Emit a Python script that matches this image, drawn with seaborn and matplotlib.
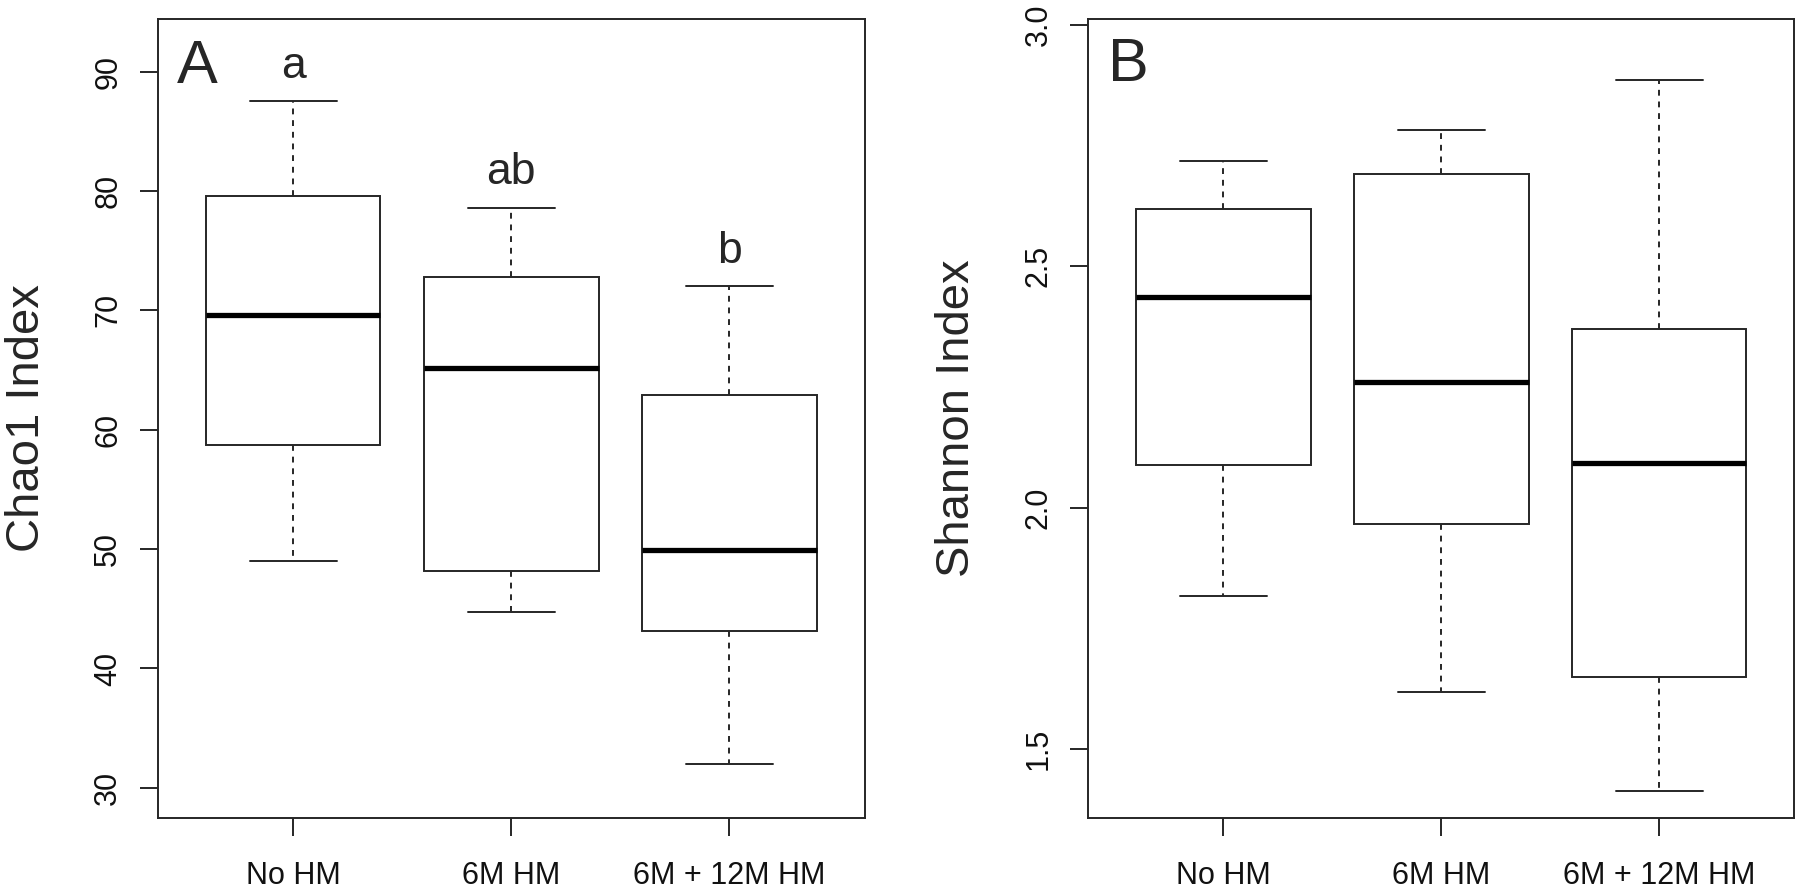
import numpy as np
import pandas as pd
import matplotlib.pyplot as plt
import seaborn as sns

sns.set_style("white")
plt.rcParams["font.family"] = ["Liberation Sans", "DejaVu Sans"]

# groups on the x axis
groups = ["No HM", "6M HM", "6M + 12M HM"]

# five-number summaries: min, Q1, median, Q3, max
chao1_nohm = [49.0, 58.7, 69.6, 79.6, 87.5]
chao1_6m = [44.7, 48.2, 65.2, 72.8, 78.6]
chao1_6m12m = [32.0, 43.1, 49.9, 62.9, 72.0]

shannon_nohm = [1.818, 2.088, 2.436, 2.618, 2.719]
shannon_6m = [1.619, 1.966, 2.260, 2.692, 2.783]
shannon_6m12m = [1.414, 1.650, 2.093, 2.371, 2.886]

# significance letters above the Chao1 boxes
chao1_letters = ["a", "ab", "b"]

chao1_ticks = [30, 40, 50, 60, 70, 80, 90]
shannon_ticks = [1.5, 2.0, 2.5, 3.0]

LINE = "#262626"


def long_df(series):
    rows = []
    for g, vals in zip(groups, series):
        for v in vals:
            rows.append({"group": g, "value": v})
    return pd.DataFrame(rows)


chao1_df = long_df([chao1_nohm, chao1_6m, chao1_6m12m])
shannon_df = long_df([shannon_nohm, shannon_6m, shannon_6m12m])

fig = plt.figure(figsize=(18, 8.89), dpi=100)
axA = fig.add_axes([0.0878, 0.0802, 0.3925, 0.8984])
axB = fig.add_axes([0.6046, 0.0802, 0.3923, 0.8984])


def draw_box(ax, df):
    sns.boxplot(data=df, x="group", y="value", order=groups, ax=ax,
                width=0.8, whis=np.inf, showfliers=False,
                color="white", linecolor=LINE, linewidth=1.4,
                medianprops=dict(linewidth=3.8, color="black"),
                whiskerprops=dict(linestyle=(0, (3, 3))))
    ax.set_xlim(-0.62, 2.62)
    ax.set_xlabel("")
    for s in ax.spines.values():
        s.set_visible(True)
        s.set_color(LINE)
        s.set_linewidth(1.4)
    ax.tick_params(axis="both", direction="out", length=13, width=1.4,
                   color=LINE, labelsize=22, labelcolor="#111111",
                   bottom=True, left=True)
    ax.tick_params(axis="y", pad=12)
    ax.tick_params(axis="x", pad=18)
    ax.grid(False)


# A: Chao1
draw_box(axA, chao1_df)
axA.set_ylim(27.5, 94.4)
axA.set_yticks(chao1_ticks)
axA.set_yticklabels([str(t) for t in chao1_ticks], rotation=90, va="center")
axA.set_ylabel("Chao1 Index", fontsize=34)
axA.yaxis.set_label_coords(-0.155, 0.5)
axA.text(0.026, 0.92, "A", transform=axA.transAxes, fontsize=44,
         ha="left", va="baseline")
for i, (lab, vals) in enumerate(zip(chao1_letters,
                                    [chao1_nohm, chao1_6m, chao1_6m12m])):
    axA.text(i, max(vals) + 2.0, lab, fontsize=32, ha="center", va="baseline")

# B: Shannon
draw_box(axB, shannon_df)
axB.set_ylim(1.358, 3.012)
axB.set_yticks(shannon_ticks)
axB.set_yticklabels([f"{t:.1f}" for t in shannon_ticks], rotation=90, va="center")
axB.set_ylabel("Shannon Index", fontsize=34)
axB.yaxis.set_label_coords(-0.155, 0.5)
axB.text(0.028, 0.922, "B", transform=axB.transAxes, fontsize=44,
         ha="left", va="baseline")

fig.savefig("out.png", dpi=100)
